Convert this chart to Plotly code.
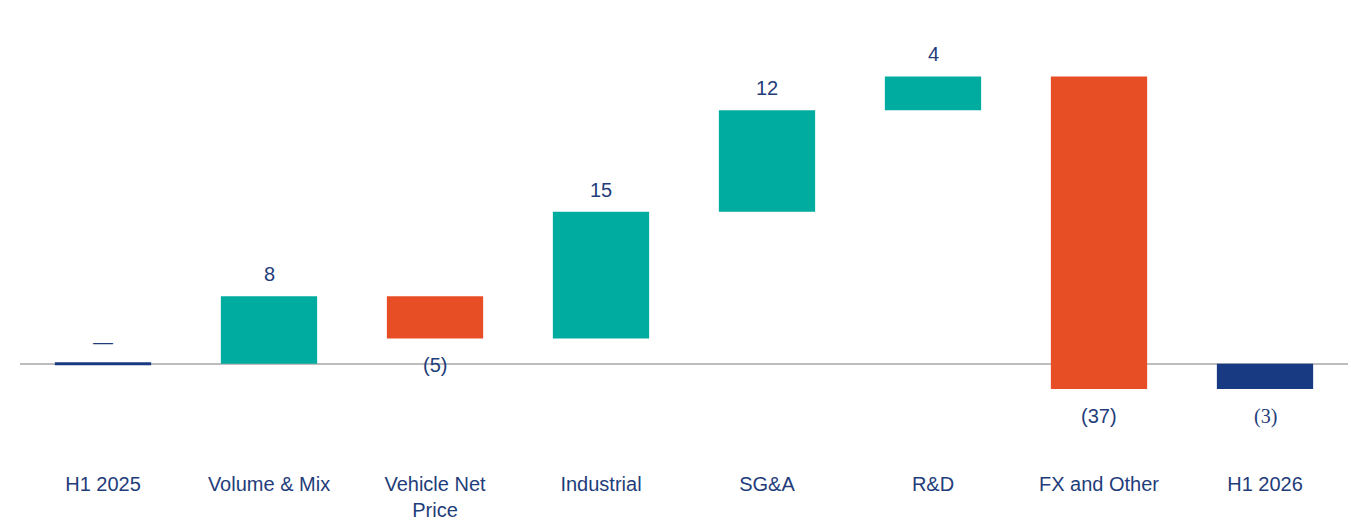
import plotly.graph_objects as go

categories = ["H1 2025", "Volume & Mix", "Vehicle Net<br>Price", "Industrial", "SG&A", "R&D", "FX and Other", "H1 2026"]
deltas = [0, 8, -5, 15, 12, 4, -37, -3]
kinds = ["total", "delta", "delta", "delta", "delta", "delta", "delta", "total"]
labels = ["—", "8", "(5)", "15", "12", "4", "(37)", "(3)"]

TEAL, ORANGE, NAVY, TXT = "#00ab9f", "#e84e26", "#173a83", "#1f3d7a"

bases, heights, colors = [], [], []
run = 0
for d, k in zip(deltas, kinds):
    if k == "total":
        bases.append(0); heights.append(d); colors.append(NAVY); run = d
    else:
        bases.append(run); heights.append(d); colors.append(TEAL if d >= 0 else ORANGE); run += d

fig = go.Figure(go.Bar(x=categories, y=heights, base=bases, marker_color=colors,
                       marker_line_width=0, width=0.58, hoverinfo="skip"))

for i, (c, b, h, lab) in enumerate(zip(categories, bases, heights, labels)):
    if h == 0:
        fig.add_shape(type="line", x0=i - 0.29, x1=i + 0.29, y0=0, y1=0, xref="x", yref="y",
                      line=dict(color=NAVY, width=3))
        end, shift = 0, 22
    elif h > 0:
        end, shift = b + h, 22
    else:
        end, shift = b + h, -27
    font = dict(size=20, color=TXT, family="Liberation Sans")
    if lab == "(3)":
        font["family"] = "Liberation Serif"
    fig.add_annotation(x=c, y=end, text=lab, showarrow=False, yshift=shift,
                       yanchor="middle", font=font)

fig.update_layout(
    width=1368, height=532, margin=dict(l=12, r=28, t=0, b=85),
    plot_bgcolor="white", paper_bgcolor="white", showlegend=False, bargap=0.42,
    font=dict(family="Liberation Sans", color=TXT, size=20),
)
fig.update_xaxes(showline=False, showgrid=False, ticks="", tickfont=dict(size=20, color=TXT),
                 ticklabelstandoff=15)
fig.update_yaxes(range=[-10.8, 42.1], showgrid=False, showticklabels=False, zeroline=True,
                 zerolinecolor="#bdbdbd", zerolinewidth=2)
fig.write_html("out.html")
